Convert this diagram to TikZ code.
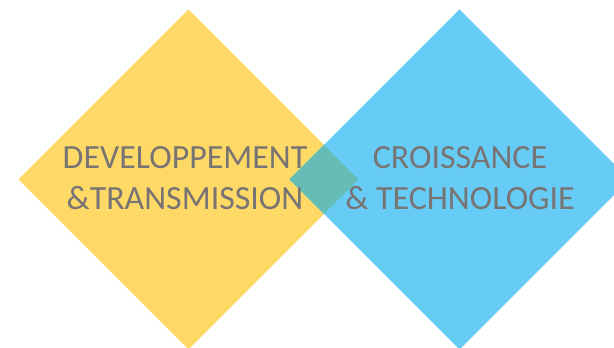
\documentclass[tikz,border=0pt]{standalone}
\usepackage{fontspec}
\setmainfont{Carlito}
\definecolor{ygold}{HTML}{FFD966}
\definecolor{bsky}{HTML}{66CCF5}
\definecolor{tealmix}{HTML}{66BDB5}
\definecolor{txtgray}{HTML}{787474}
\begin{document}
\begin{tikzpicture}[x=1pt,y=1pt,
  lbl/.style={anchor=base,text=txtgray,font=\fontsize{33.9}{40}\selectfont,inner sep=0pt}]
\useasboundingbox (0,0) rectangle (614,348);
\clip (0,0) rectangle (614,348);
\fill[ygold] (18.5,168.5) -- (188.5,338.5) -- (358.5,168.5) -- (188.5,-1.5) -- cycle;
\fill[bsky] (289.5,168.5) -- (459.5,338.5) -- (629.5,168.5) -- (459.5,-1.5) -- cycle;
\fill[tealmix] (289.5,168.5) -- (324,203) -- (358.5,168.5) -- (324,134) -- cycle;
\node[lbl] (l1) at (185,179.7) {DEVELOPPEMENT};
\node[lbl] (l2) at (185,138.5) {\&TRANSMISSION};
\node[lbl] (r1) at (460,179.7) {CROISSANCE};
\node[lbl] (r2) at (460,138.5) {\& TECHNOLOGIE};
\end{tikzpicture}
\end{document}
